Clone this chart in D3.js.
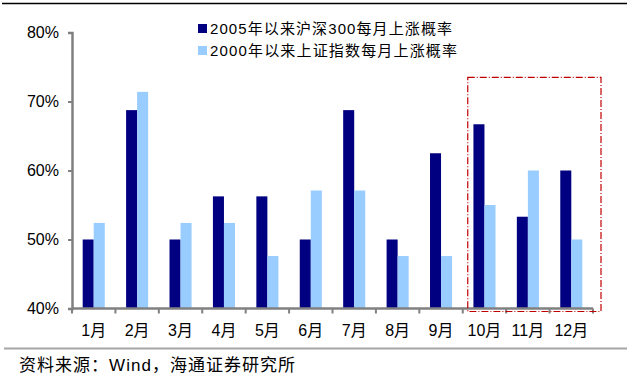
<!DOCTYPE html>
<html>
<head>
<meta charset="utf-8">
<script src="https://cdn.jsdelivr.net/npm/d3@7"></script>
<style>
  body { margin: 0; background: #fff; }
  svg { display: block; font-family: "Liberation Sans", Arial, "Noto Sans CJK SC", sans-serif; }
</style>
</head>
<body>
<div id="chart"></div>
<script>
// Data
const months = ['1月', '2月', '3月', '4月', '5月', '6月', '7月', '8月', '9月', '10月', '11月', '12月'];
const hs300 = [50, 68.75, 50, 56.25, 56.25, 50, 68.75, 50, 62.5, 66.7, 53.3, 60];
const shIndex = [52.4, 71.4, 52.4, 52.4, 47.6, 57.1, 57.1, 47.6, 47.6, 55, 60, 50];
const seriesNames = ['2005年以来沪深300每月上涨概率', '2000年以来上证指数每月上涨概率'];
const yTicks = [40, 50, 60, 70, 80];
const highlight = ['10月', '11月', '12月'];
const sourceText = '资料来源：Wind，海通证券研究所';

const width = 628, height = 378;
const colors = ['#000080', '#99ccff'];

const svg = d3.select('#chart').append('svg')
    .attr('width', width)
    .attr('height', height);

// Scales
const x = d3.scaleBand().domain(months).range([72, 593]).padding(0);
const bw = x.bandwidth();
const x1 = d3.scaleBand().domain([0, 1]).range([bw * 0.246, bw * 0.754]).padding(0);
const y = d3.scaleLinear().domain([40, 80]).range([308.5, 32.5]);

// Top rule
svg.append('line')
    .attr('x1', 2).attr('x2', 627).attr('y1', 3.5).attr('y2', 3.5)
    .attr('stroke', '#000').attr('stroke-width', 1.5);

// Bars
const rows = months.map((m, i) => ({ m, vals: [hs300[i], shIndex[i]] }));
const groups = svg.selectAll('.grp').data(rows).enter().append('g')
    .attr('transform', d => `translate(${x(d.m)},0)`);
groups.selectAll('rect').data(d => d.vals.map((v, k) => ({ v, k }))).enter().append('rect')
    .attr('x', d => x1(d.k))
    .attr('y', d => y(d.v))
    .attr('width', x1.bandwidth())
    .attr('height', d => y(40) - y(d.v))
    .attr('fill', d => colors[d.k]);

// Y axis
const yAxis = d3.axisLeft(y).tickValues(yTicks).tickSize(4).tickPadding(9)
    .tickFormat(d => d + '%');
const gy = svg.append('g').attr('transform', 'translate(72,0)').call(yAxis);
gy.select('.domain').attr('stroke', '#808080').attr('stroke-width', 2.5);
gy.selectAll('.tick line').attr('stroke', '#808080').attr('stroke-width', 2);
gy.selectAll('.tick text').attr('font-size', 16).attr('fill', '#000')
    .attr('font-family', '"Liberation Sans", Arial, sans-serif');

// X axis
const gx = svg.append('g').attr('transform', `translate(0,${y(40)})`);
gx.append('line')
    .attr('x1', x.range()[0]).attr('x2', x.range()[1])
    .attr('stroke', '#808080').attr('stroke-width', 2.5);
const bounds = months.map(m => x(m)).concat([x.range()[1]]);
gx.selectAll('.xt').data(bounds).enter().append('line')
    .attr('x1', d => d).attr('x2', d => d)
    .attr('y1', 0).attr('y2', 5)
    .attr('stroke', '#808080').attr('stroke-width', 2);
gx.selectAll('.xl').data(months).enter().append('text')
    .attr('x', d => x(d) + bw / 2)
    .attr('y', 27)
    .attr('text-anchor', 'middle')
    .attr('font-size', 16)
    .attr('fill', '#000')
    .text(d => d);

// Highlight box around Oct–Dec
const hx0 = x(highlight[0]) + 5;
const hx1 = x.range()[1] + 8;
svg.append('rect')
    .attr('x', hx0).attr('y', y(73.5))
    .attr('width', hx1 - hx0)
    .attr('height', y(40) + 3 - y(73.5))
    .attr('fill', 'none')
    .attr('stroke', '#c00000')
    .attr('stroke-width', 1.2)
    .attr('stroke-dasharray', '7,2,1,2');

// Legend
const legend = svg.append('g').attr('transform', 'translate(198,24)');
seriesNames.forEach((name, i) => {
    const g = legend.append('g').attr('transform', `translate(0,${i * 22})`);
    g.append('rect').attr('width', 9).attr('height', 9).attr('fill', colors[i]);
    g.append('text')
        .attr('x', 12).attr('y', 10)
        .attr('font-size', 15)
        .attr('fill', '#000')
        .attr('textLength', i === 0 ? 242 : 247)
        .attr('lengthAdjust', 'spacing')
        .text(name);
});

// Bottom rule and source
svg.append('line')
    .attr('x1', 4).attr('x2', 627).attr('y1', 348.5).attr('y2', 348.5)
    .attr('stroke', '#a6a6a6').attr('stroke-width', 2);
svg.append('text')
    .attr('x', 19).attr('y', 371)
    .attr('font-size', 17)
    .attr('fill', '#000')
    .attr('textLength', 276)
    .attr('lengthAdjust', 'spacing')
    .text(sourceText);
</script>
</body>
</html>
